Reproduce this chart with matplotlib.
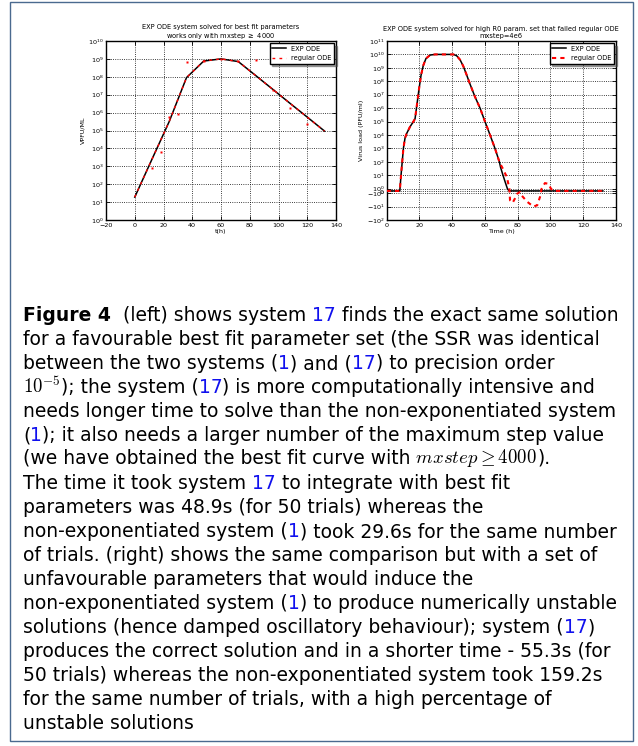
import matplotlib
matplotlib.use('Agg')
import matplotlib.pyplot as plt
from matplotlib.offsetbox import TextArea, HPacker, AnnotationBbox
from matplotlib.patches import Rectangle

# ---------- panel izquierdo (escala log)
t_exp = [0, 12, 24, 36, 48, 60, 72, 84, 96, 108, 120, 132]
v_exp = [19, 2.5e3, 3.2e5, 9e7, 7.6e8, 1e9, 7.1e8, 1.2e8, 2e7, 3.3e6, 5.6e5, 9.3e4]
# puntos sueltos de la regular ODE
t_pts = [12, 18, 24, 30, 36, 48, 60, 72, 84, 96, 108, 120]
v_pts = [7.7e2, 6.6e3, 5.5e5, 8.3e5, 7e8, 7.6e8, 1e9, 8e8, 8.7e8, 1.8e7, 1.9e6, 2.2e5]
xticks_l = [-20, 0, 20, 40, 60, 80, 100, 120, 140]
yticks_l = [1, 10, 1e2, 1e3, 1e4, 1e5, 1e6, 1e7, 1e8, 1e9, 1e10]

# ---------- panel derecho (symlog)
t_exp2 = [0, 8, 8.75, 10.2, 11.2, 12.2, 14.2, 16.3, 17.3, 18.3, 19.7, 21, 22.4, 24,
          26.5, 29.5, 40.7, 42.7, 44.8, 46.8, 48.8, 50.9, 53.9, 57, 60, 63.1, 66.1,
          68.8, 69.5, 71, 72.6, 73.7, 74.7, 132]
v_exp2 = [0, 0, 10, 1e3, 6e3, 1.3e4, 4e4, 1e5, 1.6e5, 1.3e6, 2.5e7, 3e8, 1.6e9, 5e9,
          9e9, 1e10, 1e10, 8e9, 4e9, 1.3e9, 3e8, 6e7, 7e6, 1e6, 1e5, 1e4, 1e3,
          1e2, 40, 10, 2.5, 1, 0, 0]
t_reg2 = [0, 8, 8.75, 10.2, 11.2, 12.2, 14.2, 16.3, 17.3, 18.3, 19.7, 21, 22.4, 24,
          26.5, 29.5, 40.7, 42.7, 44.8, 46.8, 48.8, 50.9, 53.9, 57, 60, 63.1, 66.1,
          68.8, 70, 71.2, 72.5, 73.3, 74.9, 75.3, 76.9, 78.3, 79.7, 81.4, 82.4, 85.8,
          89.5, 91.9, 93.6, 94.6, 96.6, 98.7, 100.3, 101.7, 132]
v_reg2 = [0, 0, 10, 1e3, 6e3, 1.3e4, 4e4, 1e5, 1.6e5, 1.3e6, 2.5e7, 3e8, 1.6e9, 5e9,
          9e9, 1e10, 1e10, 8e9, 4e9, 1.3e9, 3e8, 6e7, 7e6, 1e6, 1e5, 1e4, 1e3,
          1e2, 50, 27, 12, 8, 1, -3.4, -5.2, -2.5, -1.1, -0.5, -1.5, -4.4,
          -10, -8, -1.9, 1, 2.6, 2.3, 1, 0, 0]
xticks_r = [0, 20, 40, 60, 80, 100, 120, 140]
yticks_r = [-100, -10, -1, 0, 1, 10, 1e2, 1e3, 1e4, 1e5, 1e6, 1e7, 1e8, 1e9, 1e10, 1e11]
ylabels_r = ['$-10^{2}$', '$-10^{1}$', '$-10^{0}$', '$0$', '$10^{0}$', '$10^{1}$',
             '$10^{2}$', '$10^{3}$', '$10^{4}$', '$10^{5}$', '$10^{6}$', '$10^{7}$',
             '$10^{8}$', '$10^{9}$', '$10^{10}$', '$10^{11}$']

# ---------- texto del pie (trozos: texto, color, peso)
K, B = 'black', '#1010ee'
caption = [
    [("Figure 4", K, 'bold'), ("  (left) shows system", K, 'normal'), (" 17", B, 'normal'),
     (" finds the exact same solution", K, 'normal')],
    [("for a favourable best fit parameter set (the SSR was identical", K, 'normal')],
    [("between the two systems (", K, 'normal'), ("1", B, 'normal'), (") and (", K, 'normal'),
     ("17", B, 'normal'), (") to precision order", K, 'normal')],
    [("$10^{-5}$", K, 'normal'), ("); the system (", K, 'normal'), ("17", B, 'normal'),
     (") is more computationally intensive and", K, 'normal')],
    [("needs longer time to solve than the non-exponentiated system", K, 'normal')],
    [("(", K, 'normal'), ("1", B, 'normal'),
     ("); it also needs a larger number of the maximum step value", K, 'normal')],
    [("(we have obtained the best fit curve with", K, 'normal'),
     (r" $mxstep \geq 4000$", K, 'normal'), (").", K, 'normal')],
    [("The time it took system", K, 'normal'), (" 17", B, 'normal'),
     (" to integrate with best fit", K, 'normal')],
    [("parameters was 48.9s (for 50 trials) whereas the", K, 'normal')],
    [("non-exponentiated system (", K, 'normal'), ("1", B, 'normal'),
     (") took 29.6s for the same number", K, 'normal')],
    [("of trials. (right) shows the same comparison but with a set of", K, 'normal')],
    [("unfavourable parameters that would induce the", K, 'normal')],
    [("non-exponentiated system (", K, 'normal'), ("1", B, 'normal'),
     (") to produce numerically unstable", K, 'normal')],
    [("solutions (hence damped oscillatory behaviour); system (", K, 'normal'),
     ("17", B, 'normal'), (")", K, 'normal')],
    [("produces the correct solution and in a shorter time - 55.3s (for", K, 'normal')],
    [("50 trials) whereas the non-exponentiated system took 159.2s", K, 'normal')],
    [("for the same number of trials, with a high percentage of", K, 'normal')],
    [("unstable solutions", K, 'normal')],
]

plt.rcParams.update({
    'font.family': 'DejaVu Sans',
    'font.size': 4.6,
    'axes.linewidth': 1.0,
    'xtick.direction': 'in', 'ytick.direction': 'in',
    'xtick.top': True, 'ytick.right': True,
    'xtick.major.size': 3, 'ytick.major.size': 3,
    'xtick.major.width': 0.6, 'ytick.major.width': 0.6,
    'xtick.major.pad': 2, 'ytick.major.pad': 1.5,
    'xtick.minor.visible': False, 'ytick.minor.visible': False,
    'grid.color': 'k', 'grid.linestyle': ':', 'grid.linewidth': 0.6,
})

fig = plt.figure(figsize=(6.38, 7.46), dpi=100)

# recuadro de la figura
fig.add_artist(Rectangle((10 / 638, 5 / 746), 623 / 638, 739 / 746, transform=fig.transFigure,
                         fill=False, ec='#4a6a8f', lw=1.0))

# ---------- izquierda
ax1 = fig.add_axes([106 / 638, 1 - 220 / 746, 230 / 638, 179 / 746])
ax1.plot(t_exp, v_exp, color='k', lw=1.1, label='EXP ODE', zorder=3)
ax1.plot(t_exp, v_exp, color='red', lw=1.0, ls='--', dashes=(2, 3), label='regular ODE', zorder=4)
ax1.plot(t_pts, v_pts, ls='none', marker='s', ms=1.6, mec='none', color='red', zorder=4)
ax1.set_yscale('log')
ax1.set_xlim(-20, 140)
ax1.set_ylim(1, 1e10)
ax1.set_xticks(xticks_l)
ax1.set_yticks(yticks_l)
ax1.minorticks_off()
ax1.grid(True)
ax1.set_title('EXP ODE system solved for best fit parameters\nworks only with mxstep $\\geq$ 4000',
              fontsize=4.8, pad=2)
ax1.set_xlabel('t(h)', labelpad=1)
ax1.set_ylabel('VPFU/ML', labelpad=2)
ax1.legend(loc='upper right', fontsize=4.8, shadow=True, fancybox=False, edgecolor='k',
           framealpha=1, borderaxespad=0.3, handlelength=2.0, borderpad=0.4, labelspacing=0.5)

# ---------- derecha
ax2 = fig.add_axes([386.7 / 638, 1 - 220 / 746, 229.3 / 638, 179 / 746])
ax2.plot(t_exp2, v_exp2, color='k', lw=1.1, label='EXP ODE', zorder=3)
ax2.plot(t_reg2, v_reg2, color='red', lw=1.5, ls='--', dashes=(2, 2), label='regular ODE', zorder=4)
ax2.set_yscale('symlog', linthresh=1, linscale=0.15)
ax2.set_xlim(0, 140)
ax2.set_ylim(-100, 1e11)
ax2.set_xticks(xticks_r)
ax2.set_yticks(yticks_r)
ax2.set_yticklabels(ylabels_r)
ax2.minorticks_off()
ax2.grid(True)
ax2.set_title('EXP ODE system solved for high R0 param. set that failed regular ODE\nmxstep=4e6',
              fontsize=4.8, pad=2)
ax2.set_xlabel('Time (h)', labelpad=1)
ax2.set_ylabel('Virus load (PFU/ml)', labelpad=2)
ax2.legend(loc='upper right', fontsize=4.8, shadow=True, fancybox=False, edgecolor='k',
           framealpha=1, borderaxespad=0.3, handlelength=2.0, borderpad=0.4, labelspacing=0.5)

# ---------- pie de figura, linea por linea
for i, linea in enumerate(caption):
    partes = [TextArea(s, textprops=dict(color=c, fontweight=w, fontsize=13.5,
                                         family='DejaVu Sans', math_fontfamily='cm'))
              for s, c, w in linea]
    caja = HPacker(children=partes, align='baseline', pad=0, sep=0)
    ab = AnnotationBbox(caja, (23, 421.0 - 24 * i), xycoords='figure pixels',
                        box_alignment=(0, 0), frameon=False, pad=0)
    fig.add_artist(ab)

fig.savefig('out.png', dpi=100)
